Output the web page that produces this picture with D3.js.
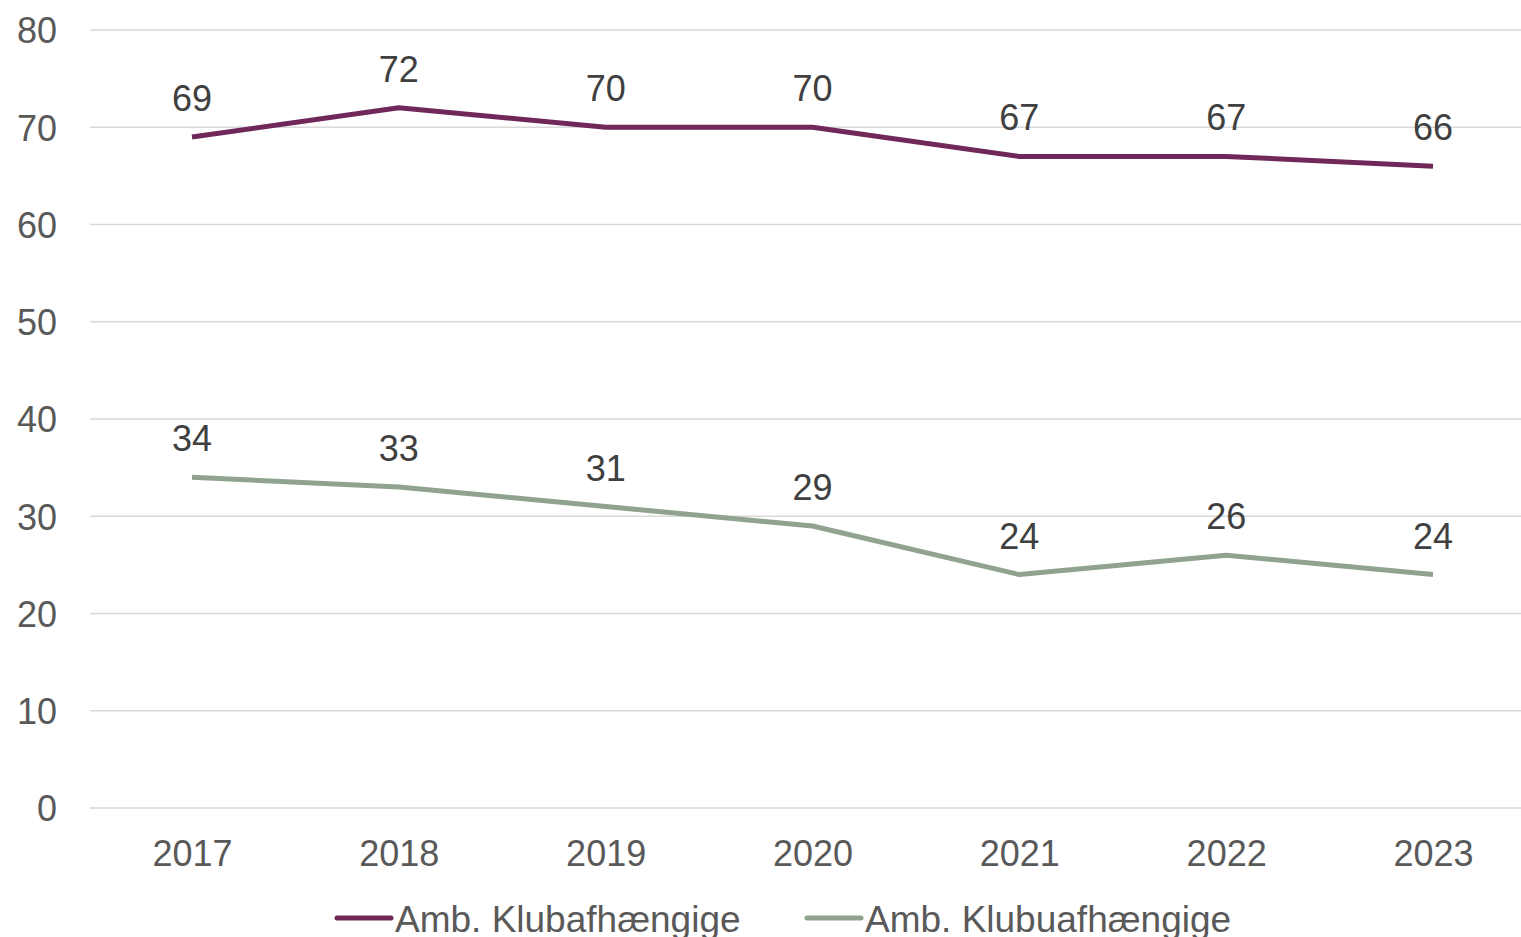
<!DOCTYPE html>
<html><head><meta charset="utf-8">
<script src="https://cdn.jsdelivr.net/npm/d3@7"></script>
<style>body{margin:0;background:#fff}svg{display:block}text{font-family:"Liberation Sans",Arial,sans-serif}</style>
</head><body><svg id="c" width="1521" height="937"></svg>
<script>
const years = ["2017","2018","2019","2020","2021","2022","2023"];
const seriesNames = ["Amb. Klubafhængige","Amb. Klubuafhængige"];
const klubafhaengige = [69,72,70,70,67,67,66];
const klubuafhaengige = [34,33,31,29,24,26,24];
const yTicks = [0,10,20,30,40,50,60,70,80];
const colors = ["#70285A","#8FA38E"];

const svg = d3.select("#c");
const x = d3.scalePoint().domain(years).range([192,1433]);
const y = d3.scaleLinear().domain([0,80]).range([808,30]);

// gridlines
svg.append("g").selectAll("line").data(yTicks).join("line")
  .attr("x1",90).attr("x2",1521)
  .attr("y1",d=>y(d)).attr("y2",d=>y(d))
  .attr("stroke","#D9D9D9").attr("stroke-width",1.5);

// y axis labels
const yAxis = d3.axisLeft(y).tickValues(yTicks).tickSize(0).tickPadding(0);
const ya = svg.append("g").attr("transform","translate(57,0)").call(yAxis);
ya.select(".domain").remove();
ya.selectAll("text").attr("font-size",36).attr("fill","#595959")
  .attr("font-family","Liberation Sans, Arial, sans-serif").attr("dy","0.36em");

// x axis labels
const xAxis = d3.axisBottom(x).tickSize(0).tickPadding(0);
const xa = svg.append("g").attr("transform","translate(0,866)").call(xAxis);
xa.select(".domain").remove();
xa.selectAll("text").attr("font-size",36).attr("fill","#595959")
  .attr("font-family","Liberation Sans, Arial, sans-serif").attr("dy",0);

const series = [klubafhaengige, klubuafhaengige];
const line = d3.line().x((d,i)=>x(years[i])).y(d=>y(d));
series.forEach((s,k)=>{
  svg.append("path").datum(s).attr("d",line).attr("fill","none")
    .attr("stroke",colors[k]).attr("stroke-width",5).attr("stroke-linejoin","round");
  svg.append("g").selectAll("text").data(s).join("text")
    .attr("x",(d,i)=>x(years[i])).attr("y",d=>y(d)-26)
    .attr("text-anchor","middle").attr("font-size",36).attr("fill","#404040")
    .text(d=>d);
});

// legend
const legX = [337, 807];
seriesNames.forEach((n,k)=>{
  const g = svg.append("g");
  g.append("line").attr("x1",legX[k]).attr("x2",legX[k]+54).attr("y1",918).attr("y2",918)
    .attr("stroke",colors[k]).attr("stroke-width",5).attr("stroke-linecap","round");
  g.append("text").attr("x",legX[k]+58).attr("y",932).attr("font-size",37).attr("fill","#595959").text(n);
});
</script></body></html>
